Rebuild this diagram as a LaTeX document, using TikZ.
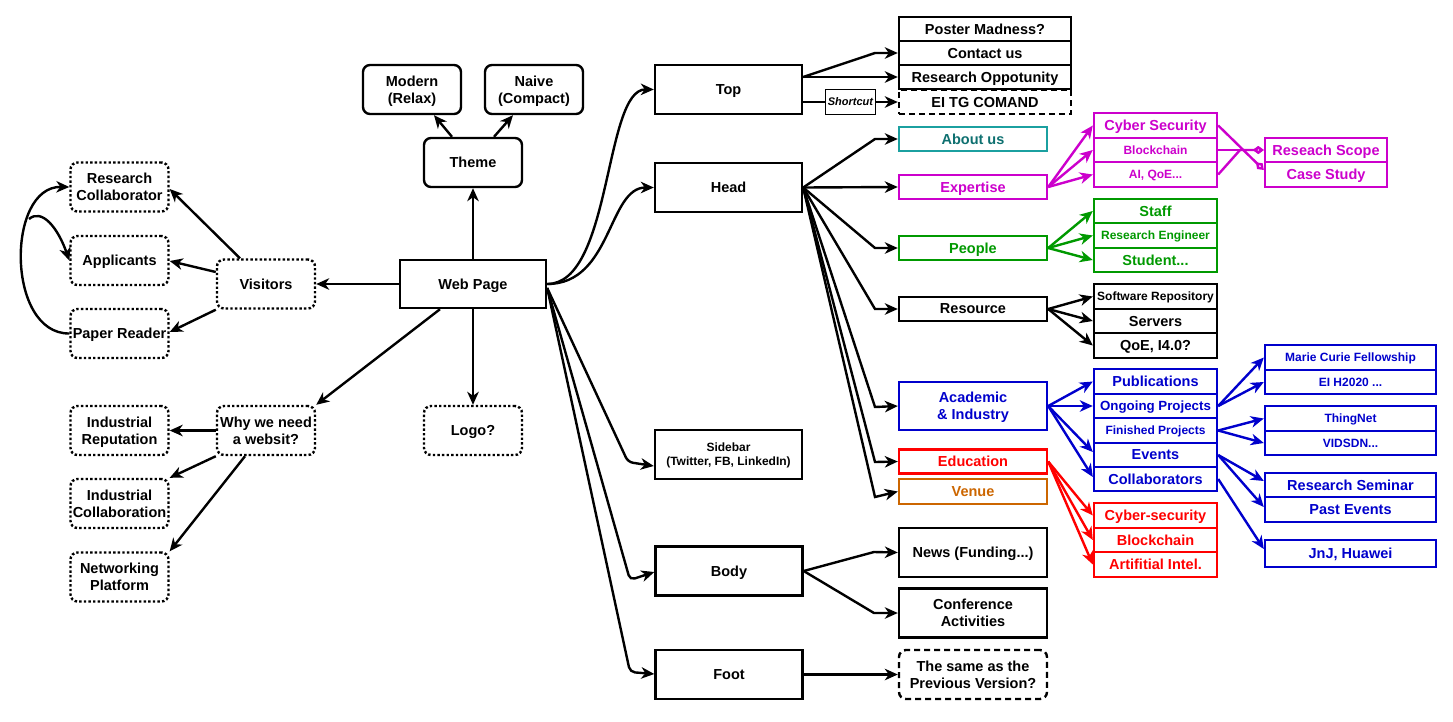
\documentclass[tikz,border=0pt]{standalone}
\usepackage{fontspec}
\setmainfont{Liberation Sans}
\usetikzlibrary{arrows.meta}
\definecolor{cmag}{HTML}{CC00CC}
\definecolor{cgrn}{HTML}{009900}
\definecolor{ctealt}{HTML}{0E7070}
\definecolor{cteal}{HTML}{1BA0A0}
\definecolor{cblu}{HTML}{0000CC}
\definecolor{cred}{HTML}{FF0000}
\definecolor{corg}{HTML}{CC6600}
\begin{document}
\begin{tikzpicture}[x=1pt,y=-1pt,
  base/.style={draw, line width=2.4pt, fill=white, align=center, inner sep=0pt, text depth=0pt, font=\fontsize{14.5}{17}\selectfont\bfseries},
  sm/.style={font=\fontsize{12}{14}\selectfont\bfseries},
  md/.style={font=\fontsize{13.3}{15}\selectfont\bfseries},
  sz/.style 2 args={minimum width=#1, minimum height=#2},
  dotbox/.style={base, rounded corners=7, dash pattern=on 2.4pt off 2.2pt, sz={98}{49}},
  rbox/.style={base, rounded corners=7, sz={98}{49}},
  mbox/.style={base, sz={147}{49}},
  cone/.style={base, sz={172}{24}},
  conb/.style={base, sz={148}{24}},
  ctwo/.style={base, sz={123}{24.5}},
  cthr/.style={base, sz={171}{24.5}},
  cthm/.style={base, sz={122}{24.5}},
  arr/.style={line width=2.4pt, -{Stealth[length=13pt,width=11.5pt,inset=4pt]}},
  dia/.style={line width=2.4pt, -{Diamond[open,length=11pt,width=8pt]}},
  mag/.style={draw=cmag, text=cmag},
  grn/.style={draw=cgrn, text=cgrn},
  blu/.style={draw=cblu, text=cblu},
  rd/.style={draw=cred, text=cred},
]
\useasboundingbox (0,0) rectangle (1453,721);

% ---------- left part ----------
\node[dotbox] (rc) at (119.5,187) {Research\\Collaborator};
\node[dotbox] (app) at (119.5,260.5) {Applicants};
\node[dotbox] (pr) at (119.5,333.5) {Paper Reader};
\node[dotbox] (vis) at (266,284) {Visitors};
\node[dotbox] (why) at (266,430.5) {Why we need\\a websit?};
\node[dotbox] (ir) at (119.5,430.5) {Industrial\\Reputation};
\node[dotbox] (ic) at (119.5,503.5) {Industrial\\Collaboration};
\node[dotbox] (np) at (119.5,577) {Networking\\Platform};
\node[base, sz={146}{48}] (wp) at (473,284) {Web Page};
\node[rbox] (theme) at (473,162.5) {Theme};
\node[rbox] (modern) at (412,89.5) {Modern\\(Relax)};
\node[rbox] (naive) at (534,89.5) {Naive\\(Compact)};
\node[dotbox] (logo) at (473,430.5) {Logo?};

% ---------- middle ----------
\node[mbox] (top) at (728.5,89.5) {Top};
\node[mbox] (head) at (728.5,187.5) {Head};
\node[mbox, sm] (sb) at (728.5,454.5) {Sidebar\\(Twitter, FB, LinkedIn)};
\node[mbox] (body) at (729,571) {Body};
\node[mbox] (foot) at (729,674.5) {Foot};

% ---------- column 1 ----------
\node[cone] (pm) at (985,29) {Poster Madness?};
\node[cone] (cu) at (985,53) {Contact us};
\node[cone] (ro) at (985,77) {Research Oppotunity};
\node[cone, dash pattern=on 6pt off 4pt] (ei) at (985,102) {EI TG COMAND};
\node[conb, draw=cteal, text=ctealt] (about) at (973,139) {About us};
\node[conb, mag] (exp) at (973,187) {Expertise};
\node[conb, grn] (people) at (973,248) {People};
\node[conb] (res) at (973,309) {Resource};
\node[base, blu, sz={148}{48}] (acad) at (973,406) {Academic\\\& Industry};
\node[conb, rd] (edu) at (973,461.5) {Education};
\node[conb, draw=corg, text=corg, minimum height=25] (venue) at (973,491.5) {Venue};
\node[base, sz={148}{49}] (news) at (973,552.5) {News (Funding...)};
\node[base, sz={148}{49}] (conf) at (973,613) {Conference\\Activities};
\node[base, sz={148}{49}, rounded corners=7, dash pattern=on 6pt off 4pt] (same) at (973,674.5) {The same as the\\Previous Version?};

% ---------- column 2 ----------
\node[ctwo, mag] (mcs) at (1155.5,125.5) {Cyber Security};
\node[ctwo, mag, sm] (mbc) at (1155.5,150) {Blockchain};
\node[ctwo, mag, sm] (mai) at (1155.5,174.5) {AI, QoE...};
\node[ctwo, grn] (staff) at (1155.5,211) {Staff};
\node[ctwo, grn, sm] (reng) at (1155.5,235.5) {Research Engineer};
\node[ctwo, grn] (stud) at (1155.5,260) {Student...};
\node[ctwo, sm] (soft) at (1155.5,296.5) {Software Repository};
\node[ctwo] (serv) at (1155.5,321) {Servers};
\node[ctwo] (qoe) at (1155.5,345.5) {QoE, I4.0?};
\node[ctwo, blu] (pub) at (1155.5,381.5) {Publications};
\node[ctwo, blu, md] (ong) at (1155.5,406) {Ongoing Projects};
\node[ctwo, blu, sm] (fin) at (1155.5,430.5) {Finished Projects};
\node[ctwo, blu] (ev) at (1155.5,455) {Events};
\node[ctwo, blu] (col) at (1155.5,479) {Collaborators};
\node[ctwo, rd] (rcs) at (1155.5,515.5) {Cyber-security};
\node[ctwo, rd] (rbc) at (1155.5,540) {Blockchain};
\node[ctwo, rd] (rai) at (1155.5,564.5) {Artifitial Intel.};

% ---------- column 3 ----------
\node[cthm, mag] (scope) at (1326,150) {Reseach Scope};
\node[cthm, mag] (case) at (1326,174.5) {Case Study};
\node[cthr, blu, sm] (marie) at (1350.5,357.5) {Marie Curie Fellowship};
\node[cthr, blu, sm] (eih) at (1350.5,382) {EI H2020 ...};
\node[cthr, blu, sm] (thing) at (1350.5,418.5) {ThingNet};
\node[cthr, blu, sm] (vid) at (1350.5,443) {VIDSDN...};
\node[cthr, blu] (rsem) at (1350.5,485) {Research Seminar};
\node[cthr, blu] (past) at (1350.5,509.5) {Past Events};
\node[cthr, blu, minimum height=27] (jnj) at (1350.5,553.5) {JnJ, Huawei};

% ---------- connectors: left ----------
\draw[arr] (wp) -- (vis);
\draw[arr] (wp) -- (theme);
\draw[arr] (wp) -- (logo);
\draw[arr] ([xshift=-21]theme.north) -- ([xshift=22]modern.south);
\draw[arr] ([xshift=21]theme.north) -- ([xshift=-21]naive.south);
\draw[arr] ([xshift=-33]wp.south) -- (why.north east);
\draw[arr] ([xshift=-26]vis.north) -- (rc.east |- 0,189);
\draw[arr] (vis.west |- 0,272) -- (app.east |- 0,261);
\draw[arr] (vis.south west) -- (pr.east |- 0,332);
\draw[arr] (pr.west) .. controls (6,334) and (6,186) .. (rc.west);
\coordinate (br) at (29,219);
\draw[arr] (br) .. controls (42,208) and (58,228) .. (app.west);
\draw[arr] (why.west) -- (ir.east);
\draw[arr] (why.south west) -- (ic.north east);
\draw[arr] ([xshift=-21]why.south) -- (np.north east);

% ---------- connectors: web page to sections ----------
\draw[arr] (wp.east) .. controls (612,284) and (604,89) .. (top.west);
\draw[arr] (wp.east) .. controls (612,284) and (608,187.5) .. (head.west);
\draw[arr, rounded corners=5] (wp.east |- 0,288) -- (628,462) -- (sb.west |- 0,466);
\draw[arr, rounded corners=5] (wp.east |- 0,288) -- (630,580) -- (body.west |- 0,572);
\draw[arr, rounded corners=5] (wp.east |- 0,288) -- (630,672) -- (foot.west |- 0,674);

% ---------- Top ----------
\draw[arr] (top.east |- 0,77) -- (875,53) -- (cu.west);
\draw[arr] (top.east |- 0,77) -- (ro.west);
\draw[arr] (top.east |- 0,102) -- node[base, line width=1.8pt, sz={50}{25}, font=\fontsize{11}{13}\selectfont\bfseries\itshape] {Shortcut} (ei.west);

% ---------- Head ----------
\draw[arr] (head.east) -- (875,139) -- (about.west);
\draw[arr] (head.east) -- (exp.west);
\draw[arr] (head.east) -- (875,248) -- (people.west);
\draw[arr] (head.east) -- (875,309) -- (res.west);
\draw[arr] (head.east) -- (875,407) -- (acad.west);
\draw[arr] (head.east) -- (875,462) -- (edu.west);
\draw[arr] (head.east) -- (875,497) -- (venue.west);

% ---------- Expertise ----------
\draw[arr, cmag] (exp.east) -- (mcs.west);
\draw[arr, cmag] (exp.east) -- (mbc.west);
\draw[arr, cmag] (exp.east) -- (mai.west);
\draw[dia, cmag] (mcs.east) -- (case.west |- 0,170);
\draw[dia, cmag] (mbc.east) -- (scope.west);
\draw[dia, cmag] (mai.east) -- (1240,150) -- (scope.west);

% ---------- People / Resource ----------
\draw[arr, cgrn] (people.east) -- (staff.west);
\draw[arr, cgrn] (people.east) -- (reng.west);
\draw[arr, cgrn] (people.east) -- (stud.west);
\draw[arr] (res.east) -- (soft.west);
\draw[arr] (res.east) -- (serv.west);
\draw[arr] (res.east) -- (qoe.west);

% ---------- Academic ----------
\draw[arr, cblu] (acad.east) -- (pub.west);
\draw[arr, cblu] (acad.east) -- (ong.west);
\draw[arr, cblu] (acad.east) -- (ev.west |- 0,452);
\draw[arr, cblu] (acad.east) -- (col.west |- 0,477);
\draw[arr, cblu] (ong.east) -- (marie.west);
\draw[arr, cblu] (ong.east) -- (eih.west);
\draw[arr, cblu] (fin.east) -- (thing.west);
\draw[arr, cblu] (fin.east) -- (vid.west);
\draw[arr, cblu] (ev.east) -- (rsem.west |- 0,481);
\draw[arr, cblu] (ev.east) -- (past.west |- 0,507);
\draw[arr, cblu] (col.east) -- (jnj.west |- 0,549);

% ---------- Education ----------
\draw[arr, cred] (edu.east) -- (rcs.west);
\draw[arr, cred] (edu.east) -- (rbc.west);
\draw[arr, cred] (edu.east) -- (rai.west);

% ---------- Body / Foot ----------
\draw[arr] (body.east) -- (874,552) -- (news.west);
\draw[arr] (body.east) -- (874,613) -- (conf.west);
\draw[arr] (foot.east) -- (same.west);
\end{tikzpicture}
\end{document}
